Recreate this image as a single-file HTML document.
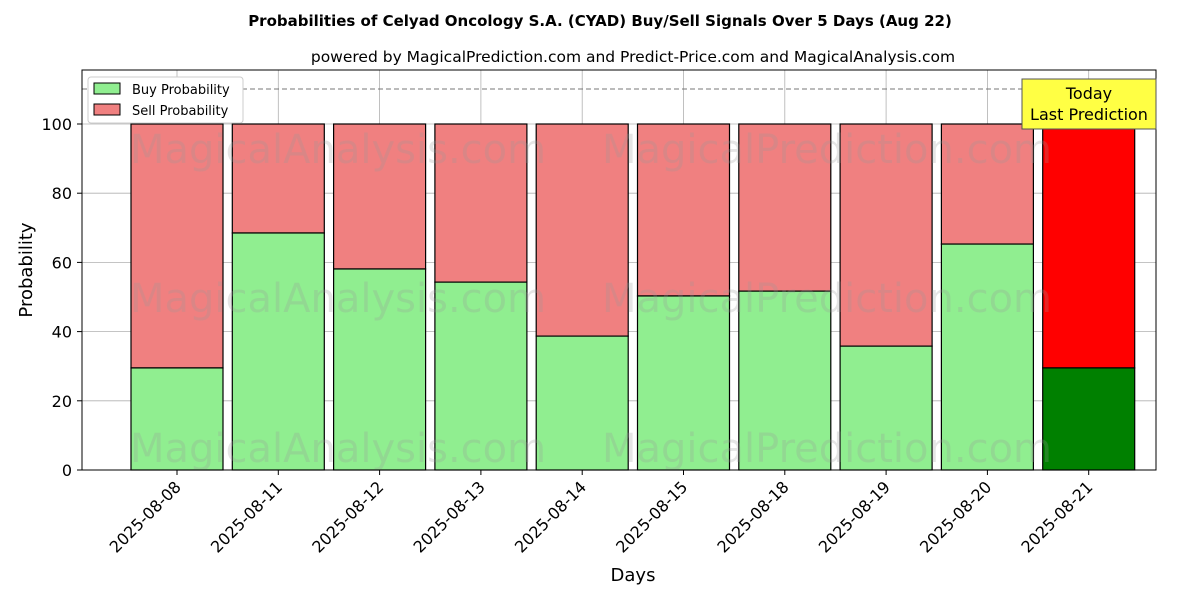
<!DOCTYPE html>
<html><head><meta charset="utf-8"><style>
body{margin:0;background:#fff;font-family:"DejaVu Sans","Liberation Sans",sans-serif}
</style></head><body>
<svg width="1200" height="600" xmlns="http://www.w3.org/2000/svg" font-family="DejaVu Sans, Liberation Sans, sans-serif">
<text x="600" y="26" text-anchor="middle" font-size="15" font-weight="bold">Probabilities of Celyad Oncology S.A. (CYAD) Buy/Sell Signals Over 5 Days (Aug 22)</text>
<text x="633" y="62" text-anchor="middle" font-size="15.5">powered by MagicalPrediction.com and Predict-Price.com and MagicalAnalysis.com</text>
<g id="grid"></g>
<g id="bars"></g>
<g font-size="40" fill="#999" opacity="0.25">
<text x="130" y="163">MagicalAnalysis.com</text><text x="602" y="163">MagicalPrediction.com</text>
<text x="130" y="312">MagicalAnalysis.com</text><text x="602" y="312">MagicalPrediction.com</text>
<text x="130" y="462">MagicalAnalysis.com</text><text x="602" y="462">MagicalPrediction.com</text>
</g>
<line x1="82" x2="1156" y1="89" y2="89" stroke="#777" stroke-dasharray="5,3"/>
<rect x="82" y="70" width="1074" height="400" fill="none" stroke="#000"/>
<g id="ticks"></g>
<text x="32" y="270" transform="rotate(-90 32 270)" text-anchor="middle" font-size="18">Probability</text>
<text x="633" y="581" text-anchor="middle" font-size="18">Days</text>
<g>
<rect x="88" y="77" width="155" height="46" fill="#fff" stroke="#ccc" rx="3"/>
<rect x="94" y="83" width="26" height="11" fill="#90ee90" stroke="#000"/>
<text x="132" y="94" font-size="13">Buy Probability</text>
<rect x="94" y="104" width="26" height="11" fill="#f08080" stroke="#000"/>
<text x="132" y="115" font-size="13">Sell Probability</text>
</g>
<g>
<rect x="1022" y="79" width="134" height="50" fill="#ffff44" stroke="#555"/>
<text x="1089" y="99" text-anchor="middle" font-size="16">Today</text>
<text x="1089" y="120" text-anchor="middle" font-size="16">Last Prediction</text>
</g>
</svg>
<script>
const categories=["2025-08-08","2025-08-11","2025-08-12","2025-08-13","2025-08-14","2025-08-15","2025-08-18","2025-08-19","2025-08-20","2025-08-21"];
const buyValues=[29.5,68.5,58.1,54.3,38.7,50.3,51.7,35.8,65.3,29.5];
const yTicks=[0,20,40,60,80,100];
const NS="http://www.w3.org/2000/svg";
const x0=177,step=101.3,bw=92;
const xs=i=>x0+i*step;
const ys=v=>470-v*3.46;
function mk(t,a,p){const e=document.createElementNS(NS,t);for(const k in a)e.setAttribute(k,a[k]);p.appendChild(e);return e;}
const grid=document.getElementById('grid'),bars=document.getElementById('bars'),ticks=document.getElementById('ticks');
yTicks.forEach(v=>{
 const g=mk('line',{x1:82,x2:1156,y1:ys(v),y2:ys(v),stroke:'#b0b0b0','stroke-width':0.8},grid);
 
 
 mk('line',{x1:77,x2:82,y1:ys(v),y2:ys(v),stroke:'#000'},ticks);
 const t=mk('text',{x:72,y:ys(v)+6,'text-anchor':'end','font-size':16},ticks);t.textContent=v;
 
 
});
categories.forEach((c,i)=>{
 const x=xs(i);
 const g=mk('line',{x1:x,x2:x,y1:70,y2:470,stroke:'#b0b0b0','stroke-width':0.8},grid);
 
 
 const last=i===categories.length-1;
 const b=buyValues[i];
 const s=mk('rect',{x:x-bw/2,y:ys(100),width:bw,height:ys(b)-ys(100),fill:last?'#ff0000':'#f08080',stroke:'#000','stroke-width':1.2},bars);
 
 
 const r=mk('rect',{x:x-bw/2,y:ys(b),width:bw,height:ys(0)-ys(b),fill:last?'#008000':'#90ee90',stroke:'#000','stroke-width':1.2},bars);
 
 
 mk('line',{x1:x,x2:x,y1:470,y2:475,stroke:'#000'},ticks);
 const tx=x+5,ty=488;
 const t=mk('text',{x:tx,y:ty,'text-anchor':'end','font-size':16,transform:`rotate(-45 ${tx} ${ty})`},ticks);t.textContent=c;
 
 
});
</script>
</body></html>
